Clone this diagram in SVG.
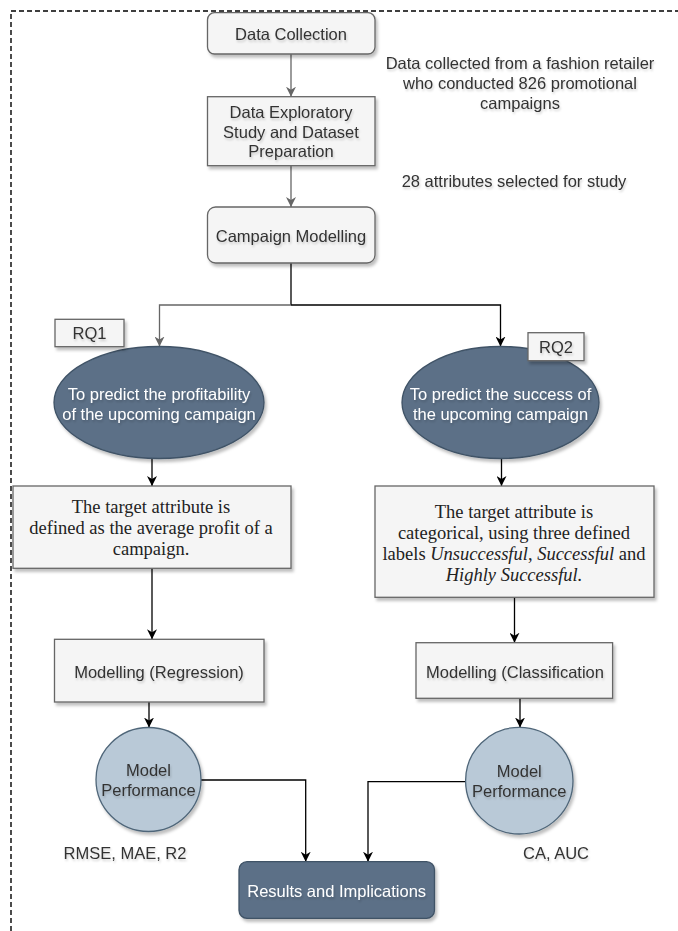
<svg xmlns="http://www.w3.org/2000/svg" width="678" height="931" viewBox="0 0 678 931">
<defs>
<filter id="sh" x="-10%" y="-10%" width="125%" height="130%">
<feDropShadow dx="2" dy="3" stdDeviation="1.6" flood-color="#000" flood-opacity="0.25"/>
</filter>
<filter id="tsh" x="-5%" y="-20%" width="115%" height="150%">
<feDropShadow dx="1" dy="2" stdDeviation="1" flood-color="#000" flood-opacity="0.18"/>
</filter>
<marker id="ab" viewBox="0 0 10 10" refX="10" refY="5" markerWidth="10" markerHeight="10" markerUnits="userSpaceOnUse" orient="auto">
<path d="M0,0 L10,5 L0,10 L3,5 z" fill="#000"/>
</marker>
<marker id="ag" viewBox="0 0 10 10" refX="10" refY="5" markerWidth="10" markerHeight="10" markerUnits="userSpaceOnUse" orient="auto">
<path d="M0,0 L10,5 L0,10 L3,5 z" fill="#666"/>
</marker>
</defs>
<style>
.box{fill:#f5f5f5;stroke:#666;stroke-width:1.3;filter:url(#sh)}
.dark{fill:#5b7087;stroke:#3f5266;stroke-width:1.3;filter:url(#sh)}
.light{fill:#b9c9d7;stroke:#4f6679;stroke-width:1.3;filter:url(#sh)}
.t{font-family:"Liberation Sans",Arial,sans-serif;font-size:16.5px;fill:#333;text-anchor:middle;filter:url(#tsh)}
.w{fill:#fff}
.s{font-family:"Liberation Serif","Times New Roman",serif;font-size:18.5px;fill:#222;text-anchor:middle}
.cb{fill:none;stroke:#000;stroke-width:1.3;marker-end:url(#ab)}
.cg{fill:none;stroke:#666;stroke-width:1.3;marker-end:url(#ag)}
.ln{fill:none;stroke:#000;stroke-width:1.3}
</style>
<rect x="11" y="11" width="700" height="960" fill="none" stroke="#000" stroke-width="1.4" stroke-dasharray="5 3"/>

<g id="connectors">
<path class="cg" d="M291 54 V96.7"/>
<path class="cg" d="M291 165.7 V207"/>
<path class="ln" d="M291 263 V305"/>
<path class="cg" d="M291 305 H159.5 V346.5"/>
<path class="cb" d="M291 305 H500.5 V346.5"/>
<path class="cb" d="M152 458.5 V486"/>
<path class="cb" d="M501.5 458.5 V486"/>
<path class="cb" d="M152 568.3 V639.3"/>
<path class="cb" d="M514.5 597.3 V642.7"/>
<path class="cb" d="M149 702 V727.5"/>
<path class="cb" d="M520 698.3 V727.5"/>
<path class="cb" d="M201 780 H305.7 V861.7"/>
<path class="cb" d="M465.6 781.7 H368 V861.7"/>
</g>

<g id="data-collection">
<rect class="box" x="207.5" y="12.7" width="167.5" height="41.3" rx="7"/>
<text class="t" x="291" y="39.8">Data Collection</text>
</g>
<g id="data-exploratory">
<rect class="box" x="207.5" y="96.7" width="167.5" height="69"/>
<text class="t" x="291" y="118">Data Exploratory</text>
<text class="t" x="291" y="137.5">Study and Dataset</text>
<text class="t" x="291" y="157">Preparation</text>
</g>
<g id="note-data">
<text class="t" x="520" y="69">Data collected from a fashion retailer</text>
<text class="t" x="520" y="89">who conducted 826 promotional</text>
<text class="t" x="520" y="109">campaigns</text>
</g>
<g id="note-attributes">
<text class="t" x="514" y="187">28 attributes selected for study</text>
</g>
<g id="campaign-modelling">
<rect class="box" x="207.5" y="207" width="167.5" height="56" rx="8"/>
<text class="t" x="291" y="242">Campaign Modelling</text>
</g>
<g id="rq1-goal">
<ellipse class="dark" cx="159" cy="402.5" rx="105" ry="56"/>
<text class="t w" x="159" y="400">To predict the profitability</text>
<text class="t w" x="159" y="419.5">of the upcoming campaign</text>
</g>
<g id="rq1">
<rect class="box" x="55" y="319.3" width="69" height="27.4"/>
<text class="t" x="89.5" y="339">RQ1</text>
</g>
<g id="rq2-goal">
<ellipse class="dark" cx="500.5" cy="402.5" rx="98.5" ry="56"/>
<text class="t w" x="500.5" y="400">To predict the success of</text>
<text class="t w" x="500.5" y="419.5">the upcoming campaign</text>
</g>
<g id="rq2">
<rect class="box" x="528" y="332.7" width="56" height="28"/>
<text class="t" x="556" y="353">RQ2</text>
</g>
<g id="target-regression">
<rect class="box" x="13" y="486" width="278" height="82.3"/>
<text class="s" x="151" y="513">The target attribute is</text>
<text class="s" x="151" y="534">defined as the average profit of a</text>
<text class="s" x="151" y="555">campaign.</text>
</g>
<g id="target-classification">
<rect class="box" x="375" y="486" width="279" height="111.3"/>
<text class="s" x="514" y="518">The target attribute is</text>
<text class="s" x="514" y="539">categorical, using three defined</text>
<text class="s" x="514" y="560">labels <tspan font-style="italic">Unsuccessful</tspan>, <tspan font-style="italic">Successful</tspan> and</text>
<text class="s" x="514" y="581"><tspan font-style="italic">Highly Successful.</tspan></text>
</g>
<g id="modelling-regression">
<rect class="box" x="54.5" y="639.3" width="209.5" height="62.7"/>
<text class="t" x="159" y="678">Modelling (Regression)</text>
</g>
<g id="modelling-classification">
<rect class="box" x="416" y="642.7" width="196.6" height="55.6"/>
<text class="t" x="515" y="678">Modelling (Classification</text>
</g>
<g id="perf-regression">
<ellipse class="light" cx="148.5" cy="779.5" rx="52.5" ry="52"/>
<text class="t" x="148.5" y="776">Model</text>
<text class="t" x="148.5" y="795.5">Performance</text>
</g>
<g id="perf-classification">
<ellipse class="light" cx="519.3" cy="780.7" rx="53.7" ry="53.3"/>
<text class="t" x="519.3" y="777">Model</text>
<text class="t" x="519.3" y="796.5">Performance</text>
</g>
<g id="metrics-regression">
<text class="t" x="125" y="859">RMSE, MAE, R2</text>
</g>
<g id="metrics-classification">
<text class="t" x="556" y="859">CA, AUC</text>
</g>
<g id="results">
<rect class="dark" x="239" y="861.7" width="195.5" height="56.6" rx="8"/>
<text class="t w" x="336.7" y="896.5">Results and Implications</text>
</g>
</svg>
